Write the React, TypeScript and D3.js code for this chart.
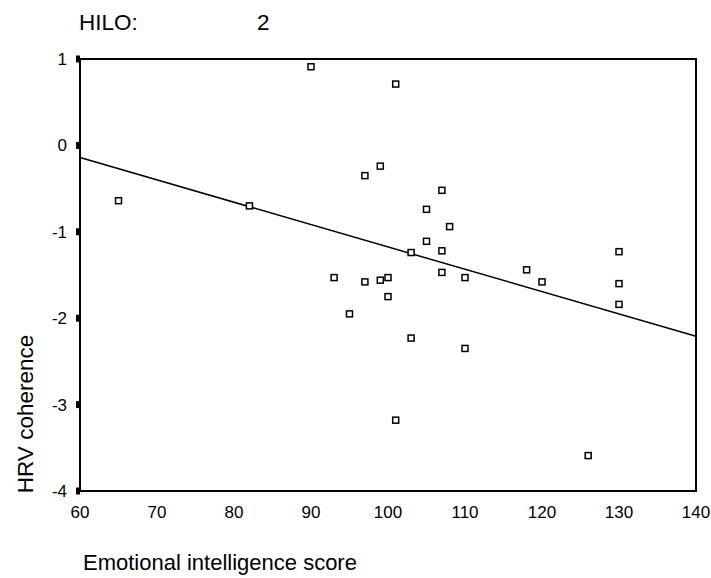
import * as d3 from "d3";
import React, { useEffect, useRef } from "react";

// scatter points
const eiScore = [
  65, 82, 90, 101, 99, 97, 107, 105, 108, 105, 103, 107, 93, 97, 99, 100, 107,
  110, 100, 95, 103, 110, 118, 120, 130, 130, 130, 101, 126,
];
const hrvCoherence = [
  -0.64, -0.7, 0.91, 0.71, -0.24, -0.35, -0.52, -0.74, -0.94, -1.11, -1.24,
  -1.22, -1.53, -1.58, -1.56, -1.53, -1.47, -1.53, -1.75, -1.95, -2.23, -2.35,
  -1.44, -1.58, -1.23, -1.6, -1.84, -3.18, -3.59,
];

// fit line ends
const fitX = [60, 140];
const fitY = [-0.14, -2.21];

const xTicks = [60, 70, 80, 90, 100, 110, 120, 130, 140];
const yTicks = [1, 0, -1, -2, -3, -4];

const titleLabel = "HILO:";
const titleValue = "2";
const xTitle = "Emotional intelligence score";
const yTitle = "HRV coherence";

const CONFIG = {
  width: 711,
  height: 578,
  left: 80,
  right: 696,
  top: 59,
  bottom: 491,
  font: "'Liberation Sans', Arial, Helvetica, sans-serif",
};

const App: React.FC = () => {
  const svgRef = useRef<SVGSVGElement>(null);

  useEffect(() => {
    const svg = d3.select(svgRef.current);
    svg.selectAll("*").remove();

    const x = d3.scaleLinear().domain([60, 140]).range([CONFIG.left, CONFIG.right]);
    const y = d3.scaleLinear().domain([-4, 1]).range([CONFIG.bottom, CONFIG.top]);

    svg.append("rect").attr("width", CONFIG.width).attr("height", CONFIG.height).attr("fill", "white");

    // frame
    svg
      .append("rect")
      .attr("x", CONFIG.left)
      .attr("y", CONFIG.top)
      .attr("width", CONFIG.right - CONFIG.left)
      .attr("height", CONFIG.bottom - CONFIG.top)
      .attr("fill", "none")
      .attr("stroke", "black")
      .attr("stroke-width", 2);

    // y ticks: small filled blocks
    svg
      .selectAll("rect.ytick")
      .data(yTicks)
      .enter()
      .append("rect")
      .attr("class", "ytick")
      .attr("x", CONFIG.left - 4)
      .attr("y", (d: number) => y(d) - 3.5)
      .attr("width", 4)
      .attr("height", 7)
      .attr("fill", "black");

    svg
      .selectAll("text.ylab")
      .data(yTicks)
      .enter()
      .append("text")
      .attr("class", "ylab")
      .attr("x", CONFIG.left - 13)
      .attr("y", (d: number) => y(d) + 6)
      .attr("text-anchor", "end")
      .attr("font-family", CONFIG.font)
      .attr("font-size", 17)
      .text((d: number) => `${d}`);

    svg
      .selectAll("text.xlab")
      .data(xTicks)
      .enter()
      .append("text")
      .attr("class", "xlab")
      .attr("x", (d: number) => x(d))
      .attr("y", CONFIG.bottom + 27)
      .attr("text-anchor", "middle")
      .attr("font-family", CONFIG.font)
      .attr("font-size", 17)
      .text((d: number) => `${d}`);

    // fit line
    const line = d3
      .line<number>()
      .x((d: number) => x(d))
      .y((_: number, i: number) => y(fitY[i]));
    svg
      .append("path")
      .attr("d", line(fitX))
      .attr("fill", "none")
      .attr("stroke", "black")
      .attr("stroke-width", 1.5);

    // points
    svg
      .selectAll("rect.pt")
      .data(eiScore)
      .enter()
      .append("rect")
      .attr("class", "pt")
      .attr("x", (d: number) => x(d) - 3)
      .attr("y", (_: number, i: number) => y(hrvCoherence[i]) - 3)
      .attr("width", 6)
      .attr("height", 6)
      .attr("fill", "white")
      .attr("stroke", "black")
      .attr("stroke-width", 1.5);

    // titles
    svg
      .append("text")
      .attr("x", 79)
      .attr("y", 30)
      .attr("font-family", CONFIG.font)
      .attr("font-size", 22.5)
      .text(titleLabel);
    svg
      .append("text")
      .attr("x", 257)
      .attr("y", 30)
      .attr("font-family", CONFIG.font)
      .attr("font-size", 22.5)
      .text(titleValue);

    svg
      .append("text")
      .attr("x", 83)
      .attr("y", 570)
      .attr("font-family", CONFIG.font)
      .attr("font-size", 22)
      .text(xTitle);

    svg
      .append("text")
      .attr("transform", `translate(33, 414) rotate(-90)`)
      .attr("text-anchor", "middle")
      .attr("font-family", CONFIG.font)
      .attr("font-size", 22.5)
      .text(yTitle);
  }, []);

  return (
    <svg
      ref={svgRef}
      width={CONFIG.width}
      height={CONFIG.height}
      style={{ position: "absolute", left: 0, top: 0 }}
    />
  );
};

export default App;
